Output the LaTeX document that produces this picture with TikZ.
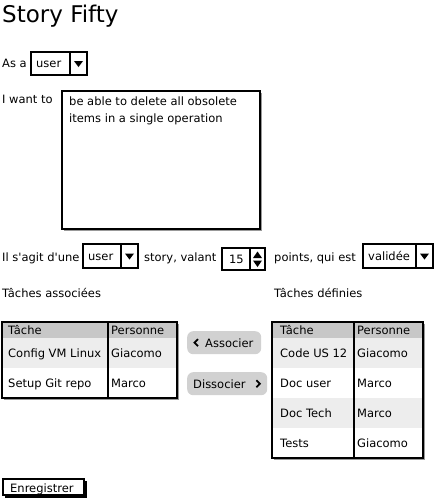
\documentclass[tikz,border=0pt]{standalone}
\usepackage{fontspec}
\setmainfont{DejaVu Sans}
\newcommand\dropdown[7]{% name, x1, y1, x2, y2, divider, text
  \draw[frame,fill=white] (#2,#3) rectangle (#4,#5);
  \draw[frame] (#6,#3) -- (#6,#5);
  \node[txt] (#1) at ({#2+5},{(#3+#5)/2+4}) {#7};
  \fill ({(#6+#4)/2-4.5},{(#3+#5)/2-2.5}) -- ++(9,0) -- ++(-4.5,6) -- cycle;}
\begin{document}
\begin{tikzpicture}[x=1pt,y=-1pt,font=\fontsize{11.5}{16.5}\selectfont,
  txt/.style={anchor=base west,inner sep=0pt},
  frame/.style={draw,line width=1.4pt},
  shade/.style={fill=black!40},
  head/.style={fill=black!22},
  odd/.style={fill=black!7},
  btn/.style={fill=black!18,rounded corners=6pt,minimum height=23pt,anchor=north west,inner sep=0pt}]
\useasboundingbox (0,0) rectangle (435,504);

\node[txt,font=\fontsize{23}{26}\selectfont] (title) at (2,22) {Story Fifty};

% As a ...
\node[txt] (asa) at (2,67) {As a};
\dropdown{role}{31}{52}{87}{75}{70}{user}

% I want to ...
\node[txt] (iwant) at (2,103) {I want to};
\fill[shade] (64,93) rectangle (262,231);
\draw[frame,fill=white] (62,91) rectangle (260,229);
\node[anchor=north west,align=left,inner sep=0pt] (goal) at (69,97)
  {be able to delete all obsolete\\items in a single operation};

% story line
\node[txt] (kind) at (2,261) {Il s\textquotesingle agit d\textquotesingle une};
\dropdown{type}{83}{244}{138}{268}{121}{user}
\node[txt] (valant) at (144,261) {story, valant};
\draw[frame,fill=white] (222,248) rectangle (265,270);
\draw[frame] (250,248) -- (250,270);
\node[txt,anchor=base east] (score) at (244,263) {15};
\fill (253,258) -- (262,258) -- (257.5,251.5) -- cycle;
\fill (253,260.5) -- (262,260.5) -- (257.5,267) -- cycle;
\node[txt] (points) at (274,261) {points, qui est};
\dropdown{state}{363}{244}{433}{268}{416}{validée}

\node[txt] (assoc) at (2,297) {Tâches associées};
\node[txt] (defin) at (274,297) {Tâches définies};

% left table
\fill[shade] (4,324) rectangle (179,400);
\fill[head] (2,322) rectangle (177,338);
\fill[odd] (2,338) rectangle (177,368);
\fill[white] (2,368) rectangle (177,398);
\draw[frame] (2,322) rectangle (177,398);
\draw[frame] (108,322) -- (108,398);
\node[txt] (lh1) at (8,334) {Tâche};
\node[txt] (lh2) at (111,334) {Personne};
\node[txt] (l1a) at (8,357) {Config VM Linux};
\node[txt] (l1b) at (111,357) {Giacomo};
\node[txt] (l2a) at (8,387) {Setup Git repo};
\node[txt] (l2b) at (111,387) {Marco};

% buttons
\node[btn,minimum width=74pt] (addbtn) at (187,331) {};
\node[txt] (addlbl) at (205,347) {Associer};
\draw[line width=1.8pt] ([xshift=11pt,yshift=3.5pt]addbtn.west) -- ([xshift=7.5pt]addbtn.west) -- ([xshift=11pt,yshift=-3.5pt]addbtn.west);
\node[btn,minimum width=80pt] (rembtn) at (187,372) {};
\node[txt] (remlbl) at (193,388) {Dissocier};
\draw[line width=1.8pt] ([xshift=-11pt,yshift=3.5pt]rembtn.east) -- ([xshift=-7.5pt]rembtn.east) -- ([xshift=-11pt,yshift=-3.5pt]rembtn.east);

% right table
\fill[shade] (274,324) rectangle (425,460);
\fill[head] (272,322) rectangle (423,338);
\fill[odd] (272,338) rectangle (423,368);
\fill[white] (272,368) rectangle (423,398);
\fill[odd] (272,398) rectangle (423,428);
\fill[white] (272,428) rectangle (423,458);
\draw[frame] (272,322) rectangle (423,458);
\draw[frame] (354,322) -- (354,458);
\node[txt] (rh1) at (280,334) {Tâche};
\node[txt] (rh2) at (357,334) {Personne};
\foreach \y/\t/\p [count=\i] in {357/Code US 12/Giacomo,387/Doc user/Marco,417/Doc Tech/Marco,447/Tests/Giacomo}
  {\node[txt] (r\i a) at (280,\y) {\t};
   \node[txt] (r\i b) at (357,\y) {\p};}

% save
\fill (5,481) rectangle (87,498);
\draw[frame,fill=white] (3,479) rectangle (84,495);
\node[txt] (save) at (10,492) {Enregistrer};
\end{tikzpicture}
\end{document}
